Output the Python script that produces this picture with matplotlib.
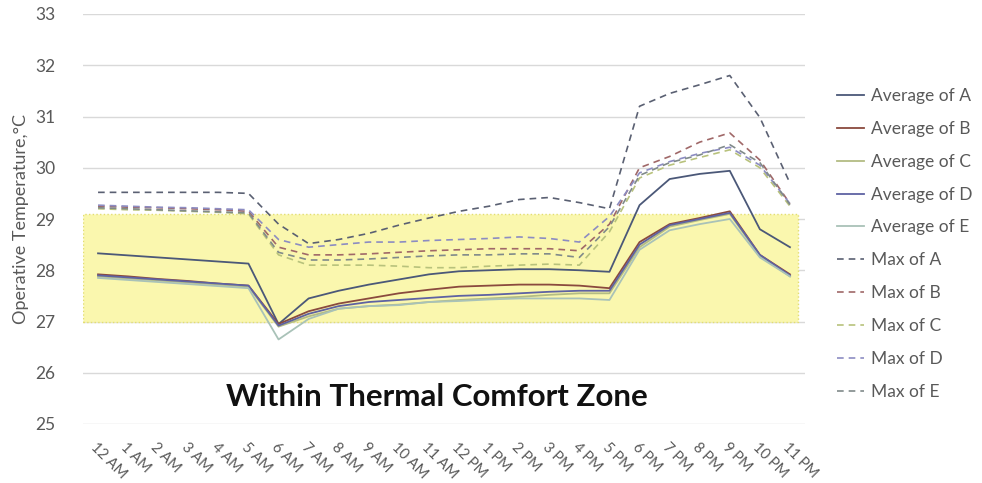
import matplotlib
matplotlib.use("Agg")
import matplotlib.pyplot as plt
import numpy as np

hours = ["12 AM", "1 AM", "2 AM", "3 AM", "4 AM", "5 AM", "6 AM", "7 AM", "8 AM", "9 AM",
         "10 AM", "11 AM", "12 PM", "1 PM", "2 PM", "3 PM", "4 PM", "5 PM", "6 PM", "7 PM",
         "8 PM", "9 PM", "10 PM", "11 PM"]

avg_a = [28.33, 28.29, 28.25, 28.21, 28.17, 28.13, 26.95, 27.45, 27.6, 27.72, 27.82, 27.92,
         27.98, 28.0, 28.02, 28.02, 28.0, 27.97, 29.27, 29.78, 29.88, 29.94, 28.8, 28.45]
avg_b = [27.92, 27.88, 27.83, 27.79, 27.74, 27.7, 26.95, 27.2, 27.35, 27.45, 27.55, 27.62,
         27.68, 27.7, 27.72, 27.72, 27.7, 27.65, 28.55, 28.9, 29.02, 29.15, 28.3, 27.92]
avg_c = [27.88, 27.84, 27.8, 27.76, 27.72, 27.68, 26.9, 27.1, 27.25, 27.3, 27.33, 27.38,
         27.42, 27.45, 27.48, 27.52, 27.55, 27.55, 28.45, 28.85, 28.98, 29.1, 28.28, 27.88]
avg_d = [27.9, 27.86, 27.82, 27.78, 27.74, 27.7, 26.92, 27.15, 27.3, 27.38, 27.42, 27.46,
         27.5, 27.52, 27.55, 27.58, 27.6, 27.6, 28.5, 28.88, 29.0, 29.12, 28.3, 27.9]
avg_e = [27.85, 27.81, 27.77, 27.73, 27.69, 27.65, 26.65, 27.05, 27.25, 27.3, 27.32, 27.38,
         27.4, 27.43, 27.45, 27.45, 27.45, 27.42, 28.4, 28.78, 28.9, 29.0, 28.25, 27.88]

max_a = [29.52, 29.52, 29.52, 29.52, 29.52, 29.5, 28.9, 28.52, 28.6, 28.72, 28.88, 29.02,
         29.15, 29.25, 29.38, 29.42, 29.32, 29.2, 31.2, 31.45, 31.62, 31.8, 30.98, 29.7]
max_b = [29.25, 29.23, 29.22, 29.2, 29.18, 29.15, 28.45, 28.3, 28.3, 28.32, 28.35, 28.38,
         28.4, 28.42, 28.42, 28.42, 28.38, 28.9, 30.0, 30.22, 30.5, 30.68, 30.15, 29.3]
max_c = [29.2, 29.18, 29.17, 29.15, 29.13, 29.1, 28.3, 28.1, 28.1, 28.1, 28.08, 28.05,
         28.05, 28.08, 28.1, 28.12, 28.1, 28.75, 29.8, 30.05, 30.2, 30.35, 30.0, 29.25]
max_d = [29.27, 29.25, 29.23, 29.22, 29.2, 29.18, 28.6, 28.45, 28.5, 28.55, 28.55, 28.58,
         28.6, 28.62, 28.65, 28.62, 28.55, 29.05, 29.9, 30.12, 30.28, 30.4, 30.05, 29.3]
max_e = [29.22, 29.2, 29.18, 29.16, 29.14, 29.12, 28.35, 28.2, 28.2, 28.22, 28.25, 28.28,
         28.3, 28.3, 28.32, 28.32, 28.25, 28.85, 29.85, 30.1, 30.25, 30.45, 30.1, 29.28]

comfort_low, comfort_high = 27.0, 29.1

series = [
    ("Average of A", avg_a, "#4B5878", "-"),
    ("Average of B", avg_b, "#8A4A3E", "-"),
    ("Average of C", avg_c, "#B3BC84", "-"),
    ("Average of D", avg_d, "#5E62A2", "-"),
    ("Average of E", avg_e, "#A9C2B8", "-"),
    ("Max of A", max_a, "#5A6072", "--"),
    ("Max of B", max_b, "#A06868", "--"),
    ("Max of C", max_c, "#B8C27C", "--"),
    ("Max of D", max_d, "#8C8CC2", "--"),
    ("Max of E", max_e, "#808A8A", "--"),
]

plt.rcParams['font.family'] = ['Lato', 'DejaVu Sans']

fig = plt.figure(figsize=(9.82, 4.83), dpi=100)
ax = fig.add_axes([83/982, 1-424/483, (805-83)/982, (424-14)/483])

x = np.arange(len(hours))
ax.set_xlim(-0.5, len(hours) - 0.5)
ax.set_ylim(25, 33)
ax.set_yticks(np.arange(25, 34, 1))
ax.yaxis.grid(True, color="#D9D9D9", lw=1.0, zorder=0)
ax.set_axisbelow(True)
for s in ax.spines.values():
    s.set_visible(False)

ax.axhspan(comfort_low, comfort_high, xmin=0, xmax=0.99, facecolor="#FAF7AE",
           edgecolor="#E3DE70", linestyle=":", lw=1.0, zorder=1)

for name, vals, col, ls in series:
    if ls == "--":
        ax.plot(x, vals, color=col, lw=1.2, linestyle=(0, (4, 3)), label=name, zorder=3)
    else:
        ax.plot(x, vals, color=col, lw=1.3, label=name, zorder=3)

ax.set_xticks(x)
ax.set_xticklabels(hours, rotation=-45, ha="left", rotation_mode="anchor",
                   fontsize=10.5, color="#595959")
ax.tick_params(axis="x", length=0, pad=12)
ax.tick_params(axis="y", length=0, labelsize=12.5, labelcolor="#595959", pad=20)
ax.set_ylabel("Operative Temperature,°C", fontsize=13, color="#595959", labelpad=4)

ax.text(0.49, 0.065, "Within Thermal Comfort Zone", transform=ax.transAxes,
        ha="center", va="center", fontsize=22.5, fontweight="bold", color="#111111")

fig.legend(loc="center left", bbox_to_anchor=(0.836, 0.495), frameon=False,
           fontsize=12.5, labelcolor="#595959", labelspacing=0.97, handlelength=1.6,
           handletextpad=0.4)

fig.savefig("out.png", dpi=100)
